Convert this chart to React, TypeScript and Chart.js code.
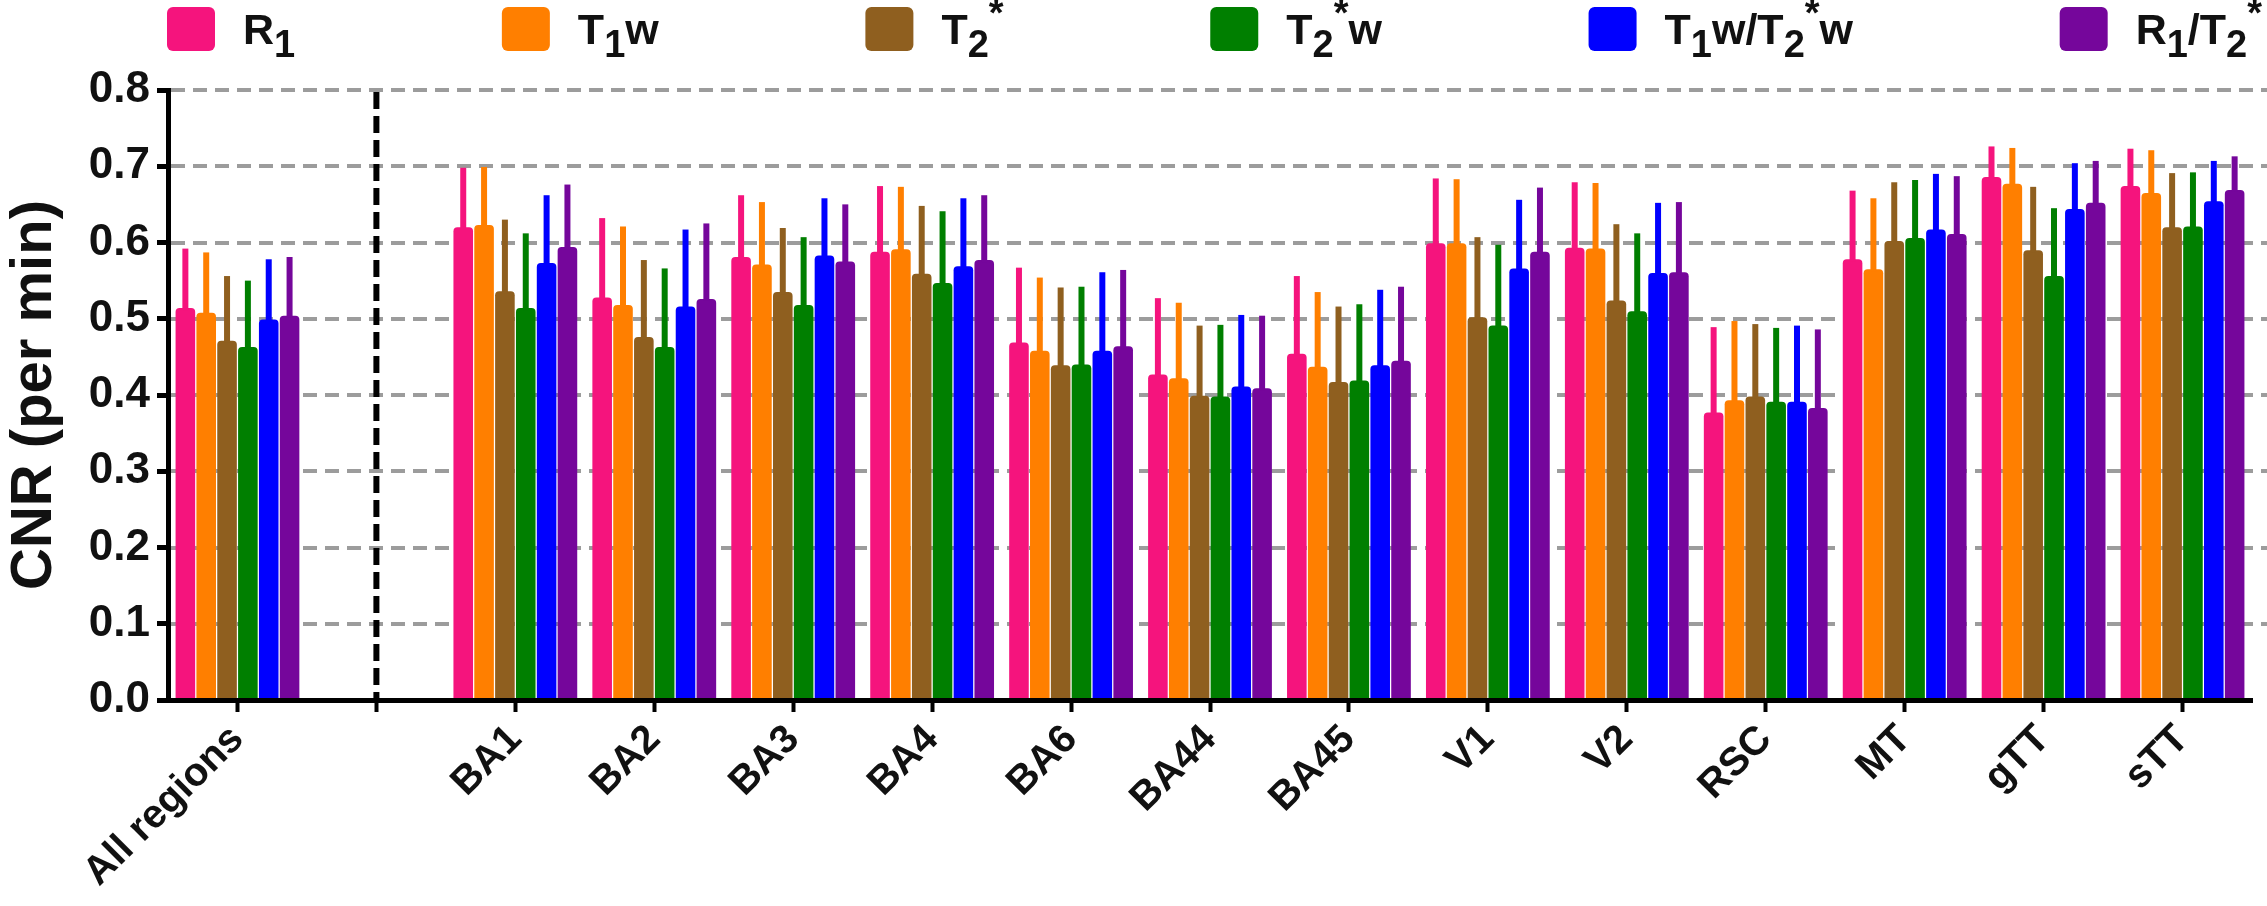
import { useEffect, useRef } from "react";
import { Chart, registerables } from "chart.js";

Chart.register(...registerables);

const W = 2267;
const H = 906;
const FONT = '"Liberation Sans", Arial, Helvetica, sans-serif';

// x categories (the empty one is the gap behind the dashed separator)
const regions = ["All regions", "", "BA1", "BA2", "BA3", "BA4", "BA6", "BA44", "BA45", "V1", "V2", "RSC", "MT", "gTT", "sTT"];

// legend labels: "_" = subscript, "^" = superscript for the next char
const seriesLabels = ["R_1", "T_1w", "T_2^*", "T_2^*w", "T_1w/T_2^*w", "R_1/T_2^*"];
const seriesColors = ["#F5147D", "#FF7F00", "#8F5F1F", "#007F00", "#0000FF", "#75069B"];

// mean CNR and top of the error bar (per min)
const r1Mean = [0.514, null, 0.62, 0.528, 0.581, 0.588, 0.469, 0.427, 0.454, 0.599, 0.593, 0.377, 0.578, 0.686, 0.674];
const r1Upper = [0.592, null, 0.698, 0.632, 0.662, 0.674, 0.567, 0.527, 0.556, 0.684, 0.679, 0.489, 0.668, 0.726, 0.723];
const t1wMean = [0.508, null, 0.623, 0.518, 0.571, 0.591, 0.458, 0.422, 0.437, 0.599, 0.592, 0.393, 0.565, 0.677, 0.665];
const t1wUpper = [0.587, null, 0.699, 0.621, 0.653, 0.673, 0.554, 0.521, 0.535, 0.683, 0.678, 0.497, 0.658, 0.724, 0.721];
const t2sMean = [0.471, null, 0.536, 0.476, 0.535, 0.559, 0.439, 0.399, 0.417, 0.502, 0.524, 0.398, 0.602, 0.59, 0.62];
const t2sUpper = [0.556, null, 0.63, 0.577, 0.619, 0.648, 0.541, 0.491, 0.516, 0.607, 0.624, 0.493, 0.679, 0.673, 0.691];
const t2swMean = [0.463, null, 0.514, 0.463, 0.518, 0.547, 0.44, 0.398, 0.419, 0.491, 0.51, 0.391, 0.606, 0.556, 0.621];
const t2swUpper = [0.55, null, 0.612, 0.566, 0.607, 0.641, 0.542, 0.492, 0.519, 0.597, 0.612, 0.488, 0.682, 0.645, 0.692];
const t1wT2swMean = [0.499, null, 0.573, 0.516, 0.583, 0.569, 0.458, 0.411, 0.439, 0.566, 0.56, 0.391, 0.617, 0.644, 0.654];
const t1wT2swUpper = [0.578, null, 0.662, 0.617, 0.658, 0.658, 0.561, 0.505, 0.538, 0.656, 0.652, 0.491, 0.69, 0.704, 0.707];
const r1T2sMean = [0.504, null, 0.594, 0.526, 0.575, 0.577, 0.464, 0.409, 0.445, 0.588, 0.561, 0.383, 0.611, 0.652, 0.669];
const r1T2sUpper = [0.581, null, 0.676, 0.625, 0.65, 0.662, 0.564, 0.504, 0.542, 0.672, 0.653, 0.486, 0.687, 0.707, 0.713];

const means = [r1Mean, t1wMean, t2sMean, t2swMean, t1wT2swMean, r1T2sMean];
const uppers = [r1Upper, t1wUpper, t2sUpper, t2swUpper, t1wT2swUpper, r1T2sUpper];

const yTicks = [0, 0.1, 0.2, 0.3, 0.4, 0.5, 0.6, 0.7, 0.8];

type Piece = { t: string; k: string };

function splitLabel(label: string): Piece[] {
  const out: Piece[] = [];
  for (let i = 0; i < label.length; i++) {
    const c = label[i];
    if ((c === "_" || c === "^") && i + 1 < label.length) {
      out.push({ t: label[i + 1], k: c });
      i++;
    } else if (out.length && out[out.length - 1].k === "") {
      out[out.length - 1].t += c;
    } else {
      out.push({ t: c, k: "" });
    }
  }
  return out;
}

// draws (or only measures) a label with sub/superscripts, returns its width
function richText(ctx: CanvasRenderingContext2D, label: string, x: number, y: number, size: number, draw: boolean) {
  let cx = x;
  for (const p of splitLabel(label)) {
    const s = p.k === "" ? size : Math.round(size * 0.88);
    const dy = p.k === "_" ? size * 0.3 : p.k === "^" ? -size * 0.42 : 0;
    ctx.font = `bold ${s}px ${FONT}`;
    if (draw) ctx.fillText(p.t, cx, y + dy);
    cx += ctx.measureText(p.t).width;
  }
  return cx - x;
}

const legendPlugin = {
  id: "richLegend",
  afterDraw(chart: any) {
    const ctx: CanvasRenderingContext2D = chart.ctx;
    const boxW = 48;
    const boxH = 44;
    const boxTop = 7;
    const baseline = 44;
    const size = 43;
    const textGap = 28;
    const left = 167;
    const right = 2262;
    ctx.save();
    const widths = seriesLabels.map((l) => boxW + textGap + richText(ctx, l, 0, 0, size, false));
    const gap = (right - left - widths.reduce((a, b) => a + b, 0)) / (widths.length - 1);
    let x = left;
    seriesLabels.forEach((l, i) => {
      ctx.fillStyle = seriesColors[i];
      ctx.beginPath();
      ctx.roundRect(x, boxTop, boxW, boxH, 6);
      ctx.fill();
      ctx.fillStyle = "#111";
      ctx.textBaseline = "alphabetic";
      richText(ctx, l, x + boxW + textGap, baseline, size, true);
      x += widths[i] + gap;
    });
    ctx.restore();
  },
};

const backdropPlugin = {
  id: "backdrop",
  beforeDatasetsDraw(chart: any) {
    const ctx: CanvasRenderingContext2D = chart.ctx;
    const { top, bottom, left } = chart.chartArea;
    const y = chart.scales.y;
    const x = chart.scales.x;
    ctx.save();
    ctx.setLineDash([14, 8]);
    ctx.lineWidth = 4;
    ctx.strokeStyle = "#9c9c9c";
    yTicks.forEach((v) => {
      if (v <= 0) return;
      const py = Math.round(y.getPixelForValue(v));
      ctx.beginPath();
      ctx.moveTo(left + 3, py);
      ctx.lineTo(W, py);
      ctx.stroke();
    });
    // dashed separator between "All regions" and the single regions
    const sx = x.getPixelForValue(1);
    ctx.setLineDash([17, 7]);
    ctx.lineWidth = 6;
    ctx.strokeStyle = "#000";
    ctx.beginPath();
    ctx.moveTo(sx, top + 2);
    ctx.lineTo(sx, bottom);
    ctx.stroke();
    ctx.restore();
  },
};

const errorBarPlugin = {
  id: "errorBars",
  afterDatasetsDraw(chart: any) {
    const ctx: CanvasRenderingContext2D = chart.ctx;
    const y = chart.scales.y;
    ctx.save();
    ctx.lineWidth = 6;
    ctx.lineCap = "butt";
    chart.data.datasets.forEach((ds: any, di: number) => {
      const meta = chart.getDatasetMeta(di);
      ctx.strokeStyle = ds.backgroundColor;
      meta.data.forEach((bar: any, i: number) => {
        const up = ds.upper[i];
        if (up == null || ds.data[i] == null) return;
        ctx.beginPath();
        ctx.moveTo(bar.x, bar.y + 2);
        ctx.lineTo(bar.x, y.getPixelForValue(up));
        ctx.stroke();
      });
    });
    ctx.restore();
  },
};

export default function App() {
  const ref = useRef<HTMLCanvasElement>(null);

  useEffect(() => {
    document.body.style.margin = "0";
    if (!ref.current) return;
    const chart = new Chart(ref.current, {
      type: "bar",
      data: {
        labels: regions,
        datasets: seriesLabels.map((label, i) => ({
          label,
          data: means[i],
          upper: uppers[i],
          backgroundColor: seriesColors[i],
          borderWidth: 0,
          borderRadius: 4,
          categoryPercentage: 0.9,
          barPercentage: 0.94,
        })) as any,
      },
      options: {
        responsive: false,
        animation: false,
        devicePixelRatio: 1,
        layout: { padding: { top: 90, left: 0, right: 15, bottom: 0 } },
        plugins: {
          legend: { display: false },
          tooltip: { enabled: false },
        },
        scales: {
          x: {
            afterFit: (s: any) => {
              s.height = 206;
            },
            grid: {
              display: true,
              drawOnChartArea: false,
              offset: false,
              tickLength: 12,
              tickWidth: 4,
              tickColor: "#000",
              z: -1,
            },
            border: { display: true, color: "#000", width: 5, z: 1 },
            ticks: {
              autoSkip: false,
              minRotation: 45,
              maxRotation: 45,
              padding: 4,
              color: "#111",
              font: { family: FONT, size: 40, weight: "bold" },
            },
          },
          y: {
            min: 0,
            max: 0.8,
            afterFit: (s: any) => {
              s.width = 168;
            },
            afterBuildTicks: (s: any) => {
              s.ticks = yTicks.map((v) => ({ value: v }));
            },
            grid: {
              display: true,
              drawOnChartArea: false,
              tickLength: 11,
              tickWidth: 5,
              tickColor: "#000",
            },
            border: { display: true, color: "#000", width: 5, z: 1 },
            ticks: {
              padding: 7,
              color: "#111",
              font: { family: FONT, size: 44, weight: "bold" },
              callback: (v: any) => Number(v).toFixed(1),
            },
            title: {
              display: true,
              text: "CNR (per min)",
              color: "#111",
              padding: { top: 0, bottom: 0 },
              font: { family: FONT, size: 58, weight: "bold" },
            },
          },
        },
      },
      plugins: [backdropPlugin, errorBarPlugin, legendPlugin],
    });
    return () => {
      chart.destroy();
    };
  }, []);

  return (
    <div style={{ width: W, height: H }}>
      <canvas ref={ref} width={W} height={H} style={{ display: "block" }}></canvas>
    </div>
  );
}
